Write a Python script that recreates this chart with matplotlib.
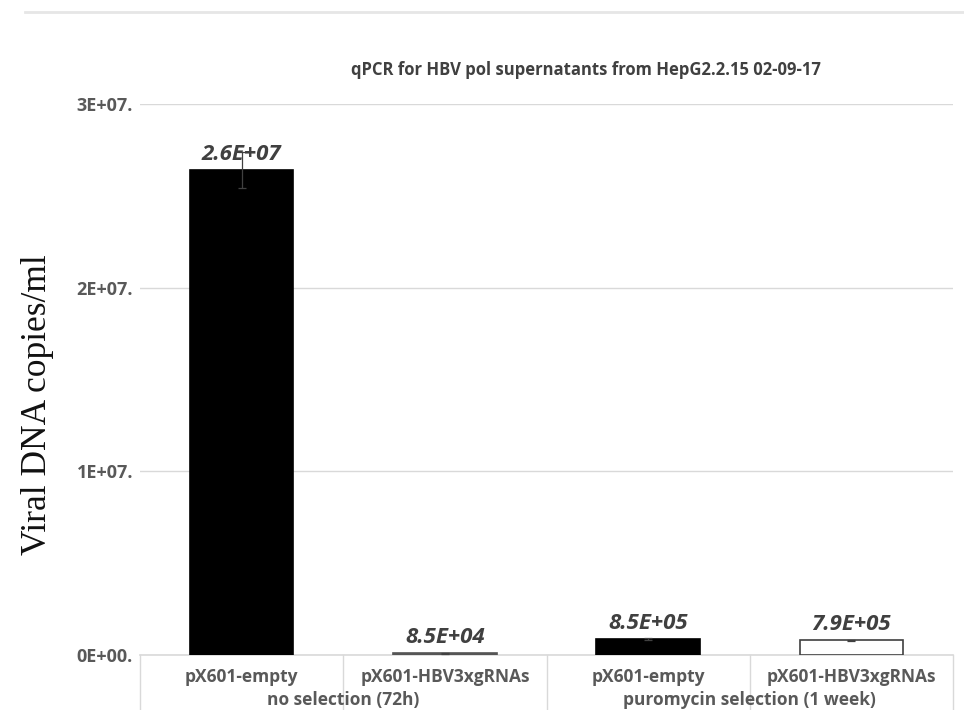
import matplotlib
matplotlib.use("Agg")
import matplotlib.pyplot as plt
from matplotlib.lines import Line2D
from matplotlib.ticker import FixedLocator, FuncFormatter
import numpy as np

# ── Data ────────────────────────────────────────────────────
samples = ["pX601-empty", "pX601-HBV3xgRNAs", "pX601-empty", "pX601-HBV3xgRNAs"]
groups = ["no selection (72h)", "puromycin selection (1 week)"]
copies = [2.64e7, 8.5e4, 8.5e5, 7.9e5]
copies_err = [1.0e6, 2.0e4, 6.0e4, 3.0e4]
y_ticks = [0, 1e7, 2e7, 3e7]

# ── Style ───────────────────────────────────────────────────
TEXT_GRAY = "#595959"
LABEL_GRAY = "#404040"
GRID_GRAY = "#d9d9d9"
bar_faces = ["black", "#555555", "black", "white"]
bar_edges = ["black", "#555555", "black", "#404040"]

plt.rcParams["font.family"] = ["Open Sans", "DejaVu Sans"]

fig = plt.figure(figsize=(9.64, 7.10), dpi=100)
ax = fig.add_axes([140 / 964, 55 / 710, 813 / 964, 551 / 710])

x = np.arange(len(samples))
bars = ax.bar(x, copies, width=0.51, color=bar_faces, edgecolor=bar_edges,
              linewidth=1.2, zorder=3)
ax.errorbar(x, copies, yerr=copies_err, fmt="none", ecolor="#404040",
            elinewidth=0.9, capsize=3, capthick=0.9, zorder=4)

for bar, val in zip(bars, copies):
    ax.annotate(f"{val:.1E}", (bar.get_x() + bar.get_width() / 2, val),
                xytext=(0, 4), textcoords="offset points",
                ha="center", va="bottom", fontsize=16, fontweight="bold",
                fontstyle="italic", color=LABEL_GRAY, zorder=5)

ax.set_xlim(-0.5, len(samples) - 0.5)
ax.set_ylim(0, 3e7)
ax.yaxis.set_major_locator(FixedLocator(y_ticks))
ax.yaxis.set_major_formatter(FuncFormatter(lambda v, p: f"{v:.0E}" + "."))
ax.tick_params(axis="y", length=0, pad=5, labelsize=13, labelcolor=TEXT_GRAY)
for lab in ax.get_yticklabels():
    lab.set_fontweight("bold")
ax.grid(axis="y", color=GRID_GRAY, linewidth=1, zorder=0)
ax.set_xticks([])
for side in ["top", "right", "left"]:
    ax.spines[side].set_visible(False)
ax.spines["bottom"].set_color(GRID_GRAY)
ax.spines["bottom"].set_linewidth(1.2)

# two-level category axis
for i, name in enumerate(samples):
    ax.text(i, -0.04, name, transform=ax.get_xaxis_transform(), ha="center",
            va="center", fontsize=12.5, fontweight="bold", color=TEXT_GRAY)
for g, name in enumerate(groups):
    ax.text(2 * g + 0.5, -0.082, name, transform=ax.get_xaxis_transform(),
            ha="center", va="center", fontsize=12.5, fontweight="bold",
            color=TEXT_GRAY)
for sep in [-0.5, 0.5, 1.5, 2.5, 3.5]:
    ax.add_line(Line2D([sep, sep], [0, -0.1], transform=ax.get_xaxis_transform(),
                       color=GRID_GRAY, linewidth=1, clip_on=False))

fig.text(586 / 964, 1 - 70 / 710,
         "qPCR for HBV pol supernatants from HepG2.2.15 02-09-17",
         ha="center", va="center", fontsize=12, fontweight="bold",
         color=LABEL_GRAY)
fig.text(38 / 964, 1 - 405 / 710, "Viral DNA copies/ml", rotation=90,
         ha="center", va="center", fontsize=25.5, family="Liberation Serif",
         color="#111111")

# outer frame edge
fig.add_artist(Line2D([25 / 964, 1], [1 - 12 / 710, 1 - 12 / 710],
                      color="#e6e6e6", linewidth=2))

fig.savefig("out.png", dpi=100)
